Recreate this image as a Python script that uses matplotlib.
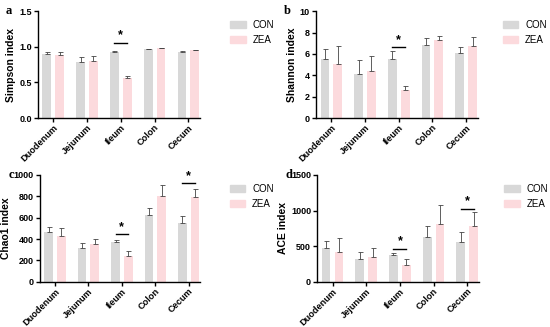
import matplotlib
matplotlib.use("Agg")
import matplotlib.pyplot as plt
import numpy as np
from matplotlib.patches import Patch

plt.rcParams['font.family'] = ['Liberation Sans', 'DejaVu Sans']

categories = ["Duodenum", "Jejunum", "Ileum", "Colon", "Cecum"]

simpson_con = [0.90, 0.78, 0.92, 0.97, 0.93]
simpson_con_err = [0.03, 0.07, 0.02, 0.005, 0.006]
simpson_zea = [0.89, 0.80, 0.56, 0.98, 0.95]
simpson_zea_err = [0.04, 0.07, 0.03, 0.005, 0.01]

shannon_con = [5.5, 4.1, 5.5, 6.8, 6.1]
shannon_con_err = [1.0, 1.3, 0.8, 0.7, 0.5]
shannon_zea = [5.1, 4.4, 2.6, 7.3, 6.7]
shannon_zea_err = [1.6, 1.4, 0.4, 0.4, 0.9]

chao1_con = [465, 320, 375, 630, 550]
chao1_con_err = [45, 45, 20, 65, 65]
chao1_zea = [425, 355, 240, 800, 790]
chao1_zea_err = [80, 45, 45, 110, 75]

ace_con = [470, 320, 375, 635, 555]
ace_con_err = [100, 105, 35, 145, 145]
ace_zea = [420, 355, 235, 810, 790]
ace_zea_err = [200, 115, 80, 265, 185]

panels = [
    ("a", "Simpson index", simpson_con, simpson_con_err, simpson_zea, simpson_zea_err,
     [0.0, 0.5, 1.0, 1.5], "{:.1f}", [(2, 1.05)]),
    ("b", "Shannon index", shannon_con, shannon_con_err, shannon_zea, shannon_zea_err,
     [0, 2, 4, 6, 8, 10], "{:d}", [(2, 6.6)]),
    ("c", "Chao1 index", chao1_con, chao1_con_err, chao1_zea, chao1_zea_err,
     [0, 200, 400, 600, 800, 1000], "{:d}", [(2, 445), (4, 920)]),
    ("d", "ACE index", ace_con, ace_con_err, ace_zea, ace_zea_err,
     [0, 500, 1000, 1500], "{:d}", [(2, 460), (4, 1025)]),
]

positions = [
    [0.069, 0.639, 0.295, 0.327],
    [0.575, 0.639, 0.294, 0.327],
    [0.073, 0.138, 0.291, 0.327],
    [0.577, 0.138, 0.294, 0.327],
]
legend_x = [1.13, 1.10, 1.13, 1.10]

con_color = "#d8d8d8"
zea_color = "#fcdadd"

fig = plt.figure(figsize=(5.5, 3.27), dpi=100)
x = np.arange(len(categories))
w = 0.26
off = 0.19

for (letter, ylabel, con, conerr, zea, zeaerr, yticks, fmt, sig), pos, lx in zip(panels, positions, legend_x):
    ax = fig.add_axes(pos)
    ax.bar(x - off, con, w, color=con_color, zorder=2)
    ax.bar(x + off, zea, w, color=zea_color, zorder=2)
    ax.errorbar(x - off, con, yerr=[np.zeros(len(con)), conerr], fmt='none',
                ecolor='#444444', elinewidth=0.6, capsize=1.8, capthick=0.6, zorder=3)
    ax.errorbar(x + off, zea, yerr=[np.zeros(len(zea)), zeaerr], fmt='none',
                ecolor='#444444', elinewidth=0.6, capsize=1.8, capthick=0.6, zorder=3)
    ymax = yticks[-1]
    ax.set_ylim(0, ymax)
    ax.set_xlim(-0.45, 4.35)
    ax.set_yticks(yticks)
    ax.set_yticklabels([fmt.format(v) for v in yticks], fontsize=6.5, fontweight='bold')
    ax.set_xticks(x)
    ax.set_xticklabels(categories, rotation=45, ha='right', rotation_mode='anchor',
                       fontsize=6.6, fontweight='bold')
    ax.set_ylabel(ylabel, fontsize=7.5, fontweight='bold', labelpad=2)
    for s in ['top', 'right']:
        ax.spines[s].set_visible(False)
    for s in ['left', 'bottom']:
        ax.spines[s].set_linewidth(1.0)
    ax.tick_params(axis='y', width=1.0, length=3, pad=1.5)
    ax.tick_params(axis='x', width=1.0, length=3, pad=0.5)
    for gi, ly in sig:
        ax.plot([gi - off, gi + off], [ly, ly], color='black', lw=1.0, zorder=4)
        ax.text(gi, ly + ymax * 0.015, "*", ha='center', va='bottom', fontsize=9,
                fontweight='bold')
    ax.text(-0.2, 1.0, letter, transform=ax.transAxes, fontsize=9, fontweight='bold',
            family='Liberation Serif', va='center', ha='left')
    handles = [Patch(color=con_color, label="CON"), Patch(color=zea_color, label="ZEA")]
    ax.legend(handles=handles, loc='upper left', bbox_to_anchor=(lx, 1.0),
              frameon=False, fontsize=7, handlelength=1.6, handleheight=0.7,
              handletextpad=0.7, labelspacing=0.55)

fig.savefig("out.png", dpi=100)
